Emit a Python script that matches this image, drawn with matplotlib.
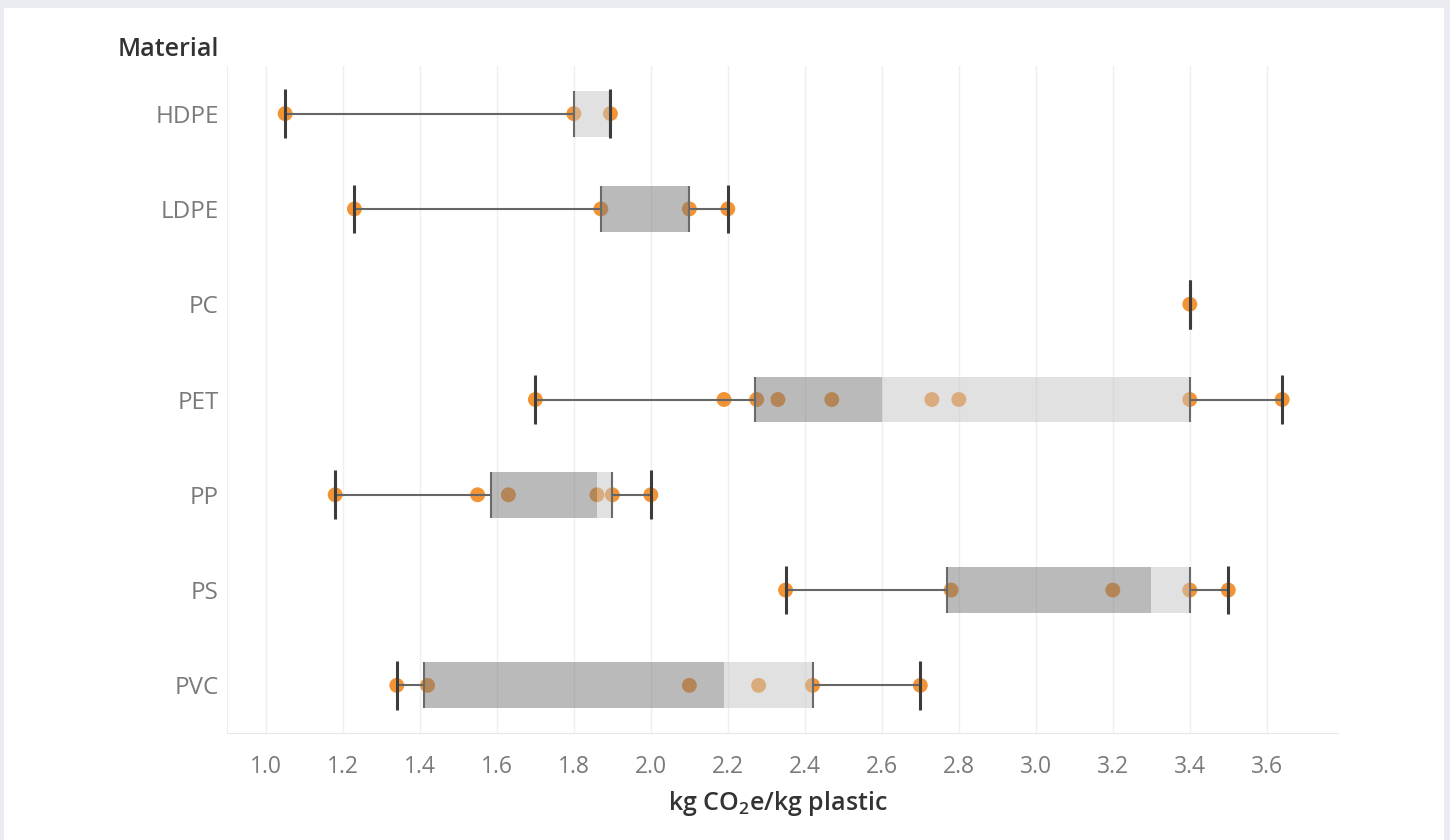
import matplotlib
matplotlib.use("Agg")
import matplotlib.pyplot as plt
from matplotlib.patches import Rectangle

plt.rcParams["font.family"] = ["Open Sans", "DejaVu Sans"]
plt.rcParams["mathtext.default"] = "regular"

# --------------------------------------------------
# Data
# --------------------------------------------------

materials = ["HDPE", "LDPE", "PC", "PET", "PP", "PS", "PVC"]

points = [
    [1.05, 1.80, 1.895],
    [1.23, 1.87, 2.10, 2.20],
    [3.40],
    [1.70, 2.19, 2.275, 2.33, 2.47, 2.73, 2.80, 3.40, 3.64],
    [1.18, 1.55, 1.63, 1.86, 1.90, 2.00],
    [2.35, 2.78, 3.20, 3.40, 3.50],
    [1.34, 1.42, 2.10, 2.28, 2.42, 2.70],
]

whisker_lo = [1.05, 1.23, 3.40, 1.70, 1.18, 2.35, 1.34]
q1 = [1.80, 1.87, 3.40, 2.27, 1.585, 2.77, 1.41]
median = [1.80, 2.10, 3.40, 2.60, 1.86, 3.30, 2.19]
q3 = [1.895, 2.10, 3.40, 3.40, 1.90, 3.40, 2.42]
whisker_hi = [1.895, 2.20, 3.40, 3.64, 2.00, 3.50, 2.70]

xticks = [1.0, 1.2, 1.4, 1.6, 1.8, 2.0, 2.2, 2.4, 2.6, 2.8, 3.0, 3.2, 3.4, 3.6]

# --------------------------------------------------
# Figure
# --------------------------------------------------

fig = plt.figure(figsize=(14.5, 8.4), dpi=100)
fig.patch.set_facecolor("#ebecf1")
fig.patches.append(Rectangle((4 / 1450, 0), 1440 / 1450, 832 / 840,
                             transform=fig.transFigure, facecolor="white",
                             edgecolor="none", zorder=-10))

ax = fig.add_axes([227 / 1450, 1 - 733 / 840, 1111 / 1450, 667 / 840])
ax.set_facecolor("none")

orange = "#f28e2b"
box_half = 0.24
cap_half = 0.255

for i, name in enumerate(materials):
    # dots
    ax.scatter(points[i], [i] * len(points[i]), s=115, color=orange,
               alpha=0.95, edgecolors="none", zorder=2)

    # boxes: lower (dark) and upper (light)
    if median[i] > q1[i]:
        ax.add_patch(Rectangle((q1[i], i - box_half), median[i] - q1[i],
                               2 * box_half, facecolor="#777777", alpha=0.5,
                               edgecolor="none", zorder=3))
    if q3[i] > median[i]:
        ax.add_patch(Rectangle((median[i], i - box_half), q3[i] - median[i],
                               2 * box_half, facecolor="#c4c4c4", alpha=0.5,
                               edgecolor="none", zorder=3))
    if q3[i] > q1[i]:
        ax.vlines([q1[i], q3[i]], i - box_half, i + box_half,
                  color="#6a6a6a", lw=1.5, zorder=4)

    # whiskers
    ax.hlines(i, whisker_lo[i], q1[i], color="#666666", lw=1.5, zorder=4)
    ax.hlines(i, q3[i], whisker_hi[i], color="#666666", lw=1.5, zorder=4)
    ax.vlines([whisker_lo[i], whisker_hi[i]], i - cap_half, i + cap_half,
              color="#3c3c3c", lw=2.2, zorder=5)

ax.set_xlim(0.899, 3.785)
ax.set_ylim(6.5, -0.5)

ax.set_xticks(xticks)
ax.set_xticklabels([f"{t:.1f}" for t in xticks])
ax.set_yticks(range(len(materials)))
ax.set_yticklabels(materials)

ax.tick_params(axis="x", length=0, pad=16, labelsize=16.5, labelcolor="#7a7a7a")
ax.tick_params(axis="y", length=0, pad=6, labelsize=17.5, labelcolor="#7a7a7a")

ax.grid(axis="x", color="#efefef", lw=1, zorder=0)
ax.set_axisbelow(True)

for side in ["top", "right"]:
    ax.spines[side].set_visible(False)
ax.spines["left"].set_color("#eeeeee")
ax.spines["bottom"].set_color("#e8e8e8")

fig.text(778 / 1450, 1 - 804 / 840, "kg CO$_2$e/kg plastic", ha="center",
         va="center", fontsize=18, fontweight="semibold", color="#333333")
fig.text(118 / 1450, 1 - 50 / 840, "Material", ha="left", va="center",
         fontsize=18, fontweight="semibold", color="#333333")

fig.savefig("out.png", dpi=100)
